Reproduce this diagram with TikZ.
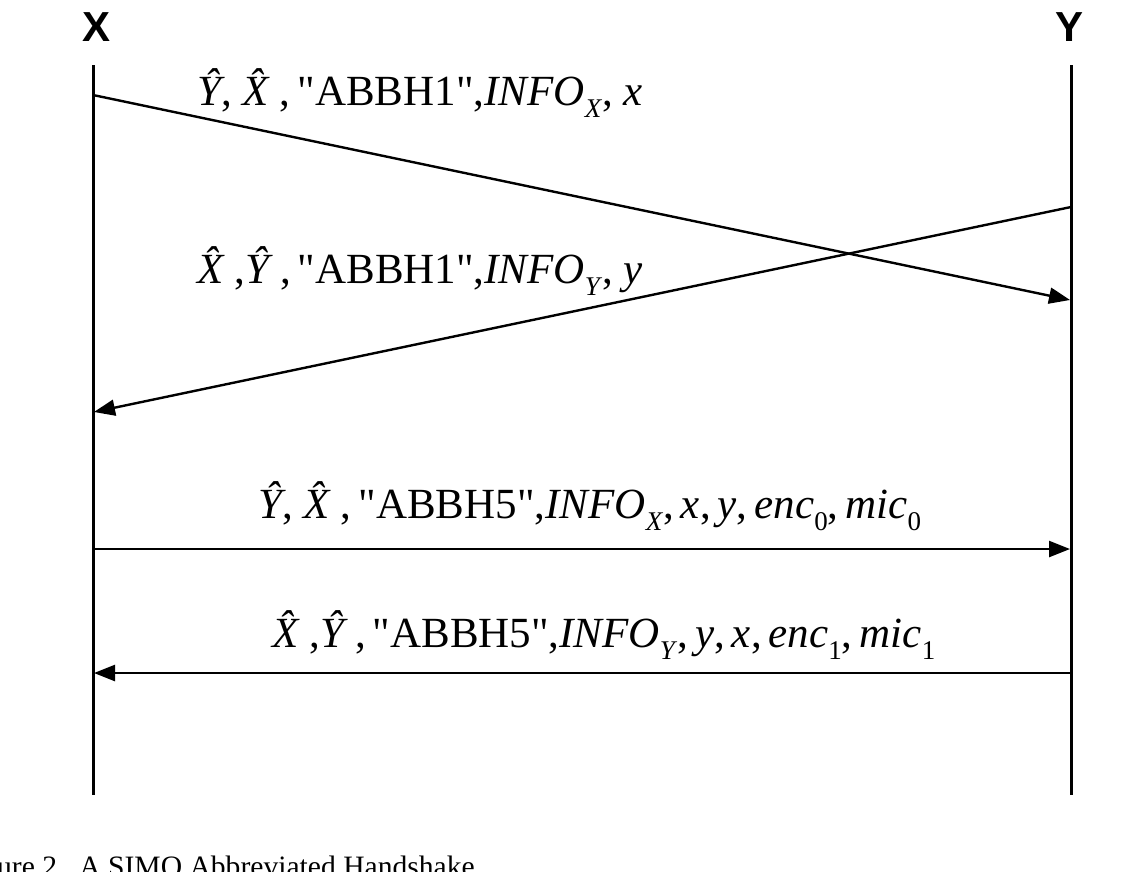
\documentclass[tikz,border=0pt]{standalone}
\usepackage{fontspec}
\setmainfont{Liberation Serif}
\newfontfamily\lifefont{Liberation Sans}
\usetikzlibrary{arrows.meta}
\newcommand{\dn}[1]{\raisebox{-0.28em}{\fontsize{27}{27}\selectfont #1}}
\newcommand{\hX}{\textit{X̂}\kern-12pt}
\newcommand{\hY}{\textit{Ŷ}}
\newcommand{\q}{\XeTeXglyph\XeTeXcharglyph"22\relax}
\newcommand{\gap}{\kern7pt}
\newcommand{\tg}{\kern7pt}
\begin{document}
\begin{tikzpicture}[x=1pt,y=-1pt,
  life/.style={line width=3pt},
  msg/.style={line width=2.4pt,-{Triangle[length=21pt,width=16pt]}},
  who/.style={font=\lifefont\bfseries\fontsize{42}{42}\selectfont, inner sep=0pt},
  lab/.style={font=\fontsize{43}{50}\selectfont, inner sep=0pt, anchor=base west},
  capt/.style={font=\fontsize{29.6}{34}\selectfont, inner sep=0pt, anchor=base west}]
\useasboundingbox (0,0) rectangle (1140,871);
\clip (0,0) rectangle (1140,871);
\fill[white] (0,0) rectangle (1140,871);
% lifeline heads
\node[who] (lx) at (97,27) {X};
\node[who] (ly) at (1069,27) {Y};
% lifelines
\coordinate (xt) at (93,65);
\coordinate (xb) at (93,795);
\coordinate (yt) at (1071,65);
\coordinate (yb) at (1071,795);
\draw[life] (xt) -- (xb);
\draw[life] (yt) -- (yb);
% message end points
\coordinate (a1s) at (93,95);
\coordinate (a1e) at (1070,300);
\coordinate (a2s) at (1071,207);
\coordinate (a2e) at (94,412);
\coordinate (a3s) at (93,549);
\coordinate (a3e) at (1070,549);
\coordinate (a4s) at (1071,673);
\coordinate (a4e) at (94,673);
\draw[msg] (a1s) -- (a1e);
\draw[msg] (a2s) -- (a2e);
\draw[msg] (a3s) -- (a3e);
\draw[msg] (a4s) -- (a4e);
% message labels
\node[lab] (m1) at (197,105) {\hY,\ \hX\gap,\gap\q ABBH1\q,\textit{INFO}\dn{\textit{X}}, \textit{x}};
\node[lab] (m2) at (197,283) {\hX\gap,\hY\gap,\gap\q ABBH1\q,\textit{INFO}\dn{\textit{Y}}, \textit{y}};
\node[lab] (m3) at (258,518) {\hY,\ \hX\gap,\gap\q ABBH5\q,\textit{INFO}\dn{\textit{X}},\tg\textit{x},\tg\textit{y},\tg\textit{enc}\dn{0},\tg\textit{mic}\dn{0}};
\node[lab] (m4) at (272,647) {\hX\gap,\hY\gap,\gap\q ABBH5\q,\textit{INFO}\dn{\textit{Y}},\tg\textit{y},\tg\textit{x},\tg\textit{enc}\dn{1},\tg\textit{mic}\dn{1}};
% caption (cut at the left and bottom edges)
\node[capt] (cap) at (-3,876) {ure 2.\ \ A SIMO Abbreviated Handshake};
\end{tikzpicture}
\end{document}
